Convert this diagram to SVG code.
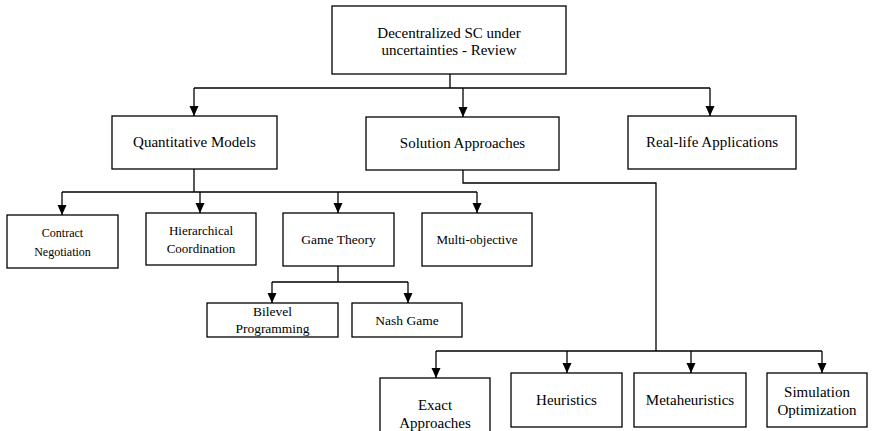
<svg xmlns="http://www.w3.org/2000/svg" width="873" height="431" viewBox="0 0 873 431">
<style>
rect{fill:#fff;stroke:#000;stroke-width:1.3}
text{font-family:'Liberation Serif','Times New Roman','DejaVu Serif',serif;fill:#000;text-anchor:middle}
.l1{font-size:15px}
.l2{font-size:13px}
.l3{font-size:13.5px}
.c{stroke:#000;stroke-width:1.3;fill:none}
.a{marker-end:url(#ar)}
</style>
<defs>
<marker id="ar" markerUnits="userSpaceOnUse" markerWidth="10" markerHeight="10" refX="10" refY="4.5" orient="auto">
<path d="M0,0 L10,4.5 L0,9 z" fill="#000"/>
</marker>
</defs>
<rect x="0" y="0" width="873" height="431" style="stroke:none"/>
<g id="connectors">
<path class="c" d="M450 74V88M194 88H710"/>
<path class="c a" d="M194 88V116"/>
<path class="c a" d="M463 88V117"/>
<path class="c a" d="M710 88V116"/>
<path class="c" d="M194 169V192M62 192H477"/>
<path class="c a" d="M62 192V215"/>
<path class="c a" d="M200 192V213"/>
<path class="c a" d="M338 192V213"/>
<path class="c a" d="M477 192V213"/>
<path class="c" d="M338 266V282M272 282H408"/>
<path class="c a" d="M272 282V303"/>
<path class="c a" d="M408 282V303"/>
<path class="c" d="M463 170V183H656V351M436 351H822"/>
<path class="c a" d="M436 351V378"/>
<path class="c a" d="M567 351V373"/>
<path class="c a" d="M691 351V373"/>
<path class="c a" d="M822 351V373"/>
</g>
<g font-family="Liberation Serif, DejaVu Serif, serif">
<g id="root"><rect x="332" y="6" width="234" height="68"/><text class="l1" x="449" y="38">Decentralized SC under</text><text class="l1" x="449" y="55">uncertainties - Review</text></g>
<g id="quantitative"><rect x="112" y="116" width="165" height="53"/><text class="l1" x="194.5" y="147">Quantitative Models</text></g>
<g id="solution"><rect x="366" y="117" width="193" height="53"/><text class="l1" x="462.5" y="148">Solution Approaches</text></g>
<g id="reallife"><rect x="628" y="116" width="168" height="53"/><text class="l1" x="712" y="147">Real-life Applications</text></g>
<g id="contract"><rect x="7" y="215" width="111" height="53"/><text style="font-size:12px" x="62.5" y="237">Contract</text><text style="font-size:12px" x="62.5" y="256">Negotiation</text></g>
<g id="hierarchical"><rect x="146" y="213" width="110" height="52"/><text class="l2" x="201" y="235">Hierarchical</text><text class="l2" x="201" y="253">Coordination</text></g>
<g id="gametheory"><rect x="283" y="213" width="111" height="53"/><text class="l3" x="338.5" y="244">Game Theory</text></g>
<g id="multiobjective"><rect x="422" y="213" width="110" height="53"/><text class="l2" x="477" y="244">Multi-objective</text></g>
<g id="bilevel"><rect x="207" y="303" width="131" height="34"/><text class="l3" x="272.5" y="316">Bilevel</text><text class="l3" x="272.5" y="333">Programming</text></g>
<g id="nash"><rect x="352" y="303" width="110" height="34"/><text class="l3" x="407" y="325">Nash Game</text></g>
<g id="exact"><rect x="380" y="378" width="110" height="60"/><text class="l1" x="435" y="410">Exact</text><text class="l1" x="435" y="428">Approaches</text></g>
<g id="heuristics"><rect x="511" y="373" width="111" height="54"/><text class="l1" x="566.5" y="405">Heuristics</text></g>
<g id="metaheuristics"><rect x="634" y="373" width="112" height="54"/><text class="l1" x="690" y="405">Metaheuristics</text></g>
<g id="simulation"><rect x="767" y="373" width="100" height="54"/><text class="l1" x="817" y="397">Simulation</text><text class="l1" x="817" y="415">Optimization</text></g>
</g>
</svg>
